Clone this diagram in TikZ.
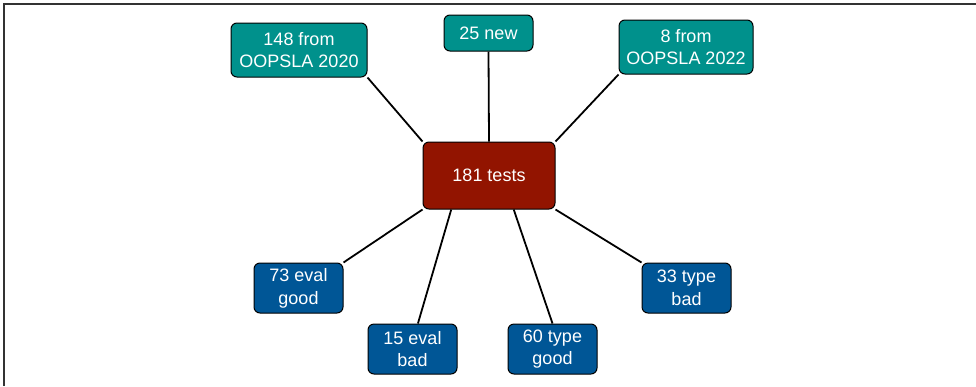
\documentclass[tikz,border=0pt]{standalone}
\usepackage{fontspec}
\setmainfont{Liberation Sans}
\usetikzlibrary{backgrounds}
\definecolor{srcteal}{RGB}{0,145,140}
\definecolor{totalred}{RGB}{146,20,0}
\definecolor{catblue}{RGB}{0,86,150}
\tikzset{
  box/.style={draw=black, line width=1pt, rounded corners=6pt, text=white,
    align=center, inner sep=0pt, font=\fontsize{18}{22.7}\selectfont},
  srcbox/.style={box, fill=srcteal},
  totalbox/.style={box, fill=totalred, minimum width=132pt, minimum height=67pt},
  catbox/.style={box, fill=catblue, minimum width=89pt, minimum height=50pt},
  link/.style={line width=1.8pt, black}
}
\begin{document}
\begin{tikzpicture}[x=1pt, y=-1pt]
    \useasboundingbox (0,0) rectangle (976,386);
    % Frame
    \draw[line width=1.5pt, black!80] (4,386) -- (4,4) -- (976,4);

    % Sources
    \node[srcbox, minimum width=136pt, minimum height=54pt] (s148) at (299,50) {148 from\\OOPSLA 2020};
    \node[srcbox, minimum width=89pt, minimum height=36pt] (n25) at (488.5,33) {25 new};
    \node[srcbox, minimum width=134pt, minimum height=54pt] (s8) at (686,47) {8 from\\OOPSLA 2022};

    % Total
    \node[totalbox] (t181) at (489,175.5) {181 tests};

    % Categories
    \node[catbox] (e73) at (298.5,288) {73 eval\\good};
    \node[catbox] (e15) at (412.5,349) {15 eval\\bad};
    \node[catbox] (g60) at (552.5,349) {60 type\\good};
    \node[catbox] (b33) at (686.5,288) {33 type\\bad};

    % Connectors
    \begin{scope}[on background layer]
        \draw[link] (s148.south east) -- (t181.north west);
        \draw[link] (n25.south) -- (t181.north);
        \draw[link] (s8.south west) -- (t181.north east);
        \draw[link] (t181.south west) -- (e73.north east);
        \draw[link] (t181.222) -- (e15.78);
        \draw[link] (t181.306) -- (g60.north);
        \draw[link] (t181.south east) -- (b33.north west);
    \end{scope}
\end{tikzpicture}
\end{document}
